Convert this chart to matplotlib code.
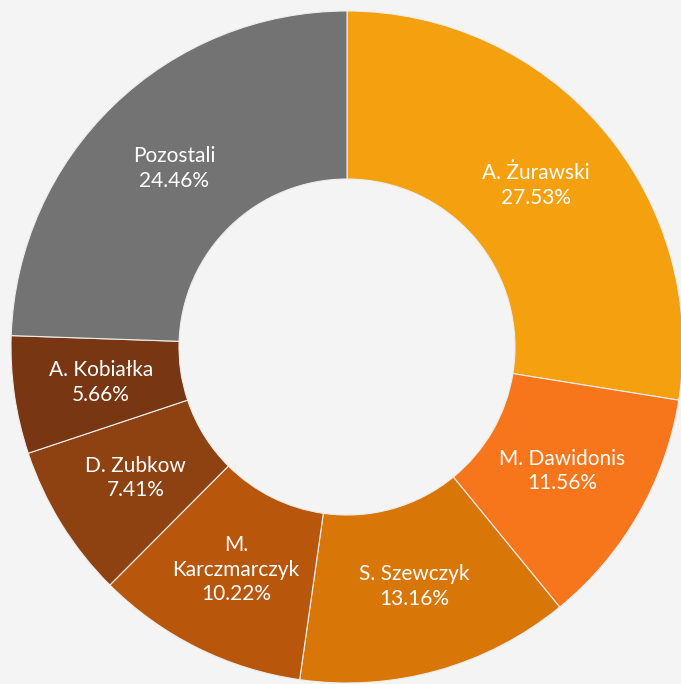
import matplotlib
matplotlib.use('Agg')
import matplotlib.pyplot as plt

# 数据
names = ['A. Żurawski', 'M. Dawidonis', 'S. Szewczyk', 'M.\nKarczmarczyk',
         'D. Zubkow', 'A. Kobiałka', 'Pozostali']
shares = [27.53, 11.56, 13.16, 10.22, 7.41, 5.66, 24.46]
colors = ['#F4A00F', '#F8761B', '#D87608', '#B8560C', '#8E4111', '#783612', '#737373']

plt.rcParams['font.family'] = ['Lato', 'DejaVu Sans']

fig = plt.figure(figsize=(6.81, 6.84), dpi=100)
fig.patch.set_facecolor('#F4F4F4')
ax = fig.add_axes([0, 0, 1, 1])
ax.set_facecolor('#F4F4F4')

R = 336
labels = [f'{n}\n{v:.2f}%' for n, v in zip(names, shares)]

# 绘制环形图
wedges, texts = ax.pie(shares, colors=colors, startangle=90, counterclock=False,
                       radius=R, center=(347, 337), labels=labels, labeldistance=0.74,
                       wedgeprops=dict(width=R * 0.5, edgecolor='#EDEDED', linewidth=0.8),
                       textprops=dict(color='white', fontsize=15, ha='center', va='center',
                                      linespacing=1.3))

ax.set_xlim(0, 681)
ax.set_ylim(0, 684)
ax.set_aspect('equal')
ax.axis('off')

fig.savefig('out.png', dpi=100, facecolor=fig.get_facecolor())
